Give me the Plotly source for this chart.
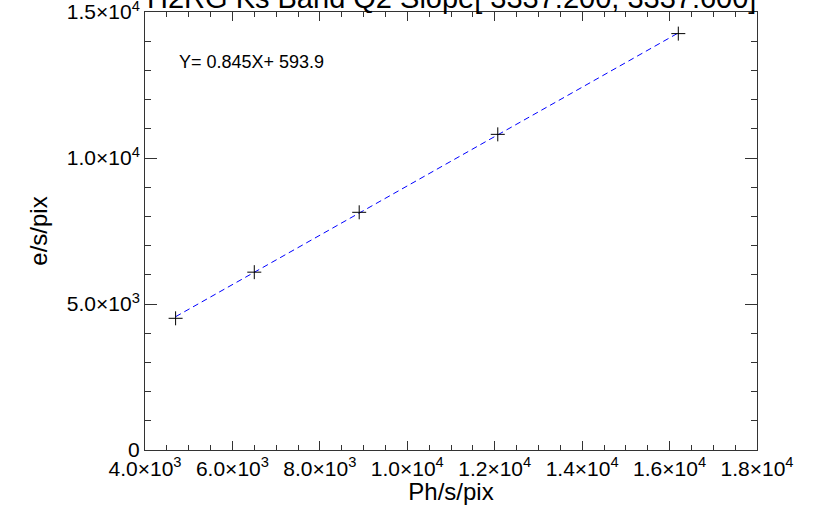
import plotly.graph_objects as go

# data
ph_flux = [4700, 6500, 8900, 12070, 16200]
e_flux = [4510, 6090, 8140, 10810, 14260]
slope = 0.845
intercept = 593.9
x_ticks = [4000, 6000, 8000, 10000, 12000, 14000, 16000, 18000]
x_labels = ["4.0×10<sup>3</sup>", "6.0×10<sup>3</sup>", "8.0×10<sup>3</sup>", "1.0×10<sup>4</sup>",
            "1.2×10<sup>4</sup>", "1.4×10<sup>4</sup>", "1.6×10<sup>4</sup>", "1.8×10<sup>4</sup>"]
y_ticks = [0, 5000, 10000, 15000]
y_labels = ["0", "5.0×10<sup>3</sup>", "1.0×10<sup>4</sup>", "1.5×10<sup>4</sup>"]
title_text = "H2RG Ks Band Q2 Slope[ 3337:200, 3337:600]"
fit_label = "Y= 0.845X+ 593.9"

fit_x = [min(ph_flux), max(ph_flux)]
fit_y = [slope * v + intercept for v in fit_x]

FONT = "Liberation Sans"
fig = go.Figure()
fig.add_trace(go.Scatter(x=fit_x, y=fit_y, mode="lines",
                         line=dict(color="#0000ff", width=1, dash="6px,4px"),
                         showlegend=False, hoverinfo="skip"))
fig.add_trace(go.Scatter(x=ph_flux, y=e_flux, mode="markers",
                         marker=dict(symbol="cross-thin", size=10, color="black",
                                     line=dict(color="black", width=1)),
                         showlegend=False))

axis_common = dict(showgrid=False, zeroline=False, showline=True, linecolor="#333333",
                   linewidth=1, mirror="allticks", ticks="inside", tickcolor="#333333",
                   ticklabeloverflow="allow", automargin=False,
                   tickfont=dict(family=FONT, size=21, color="black"))
fig.update_xaxes(range=[4000, 18000], tickvals=x_ticks, ticktext=x_labels, ticklen=9,
                 minor=dict(dtick=500, tick0=4000, ticklen=5, ticks="inside", tickcolor="#333333"),
                 title=dict(text="Ph/s/pix", font=dict(family=FONT, size=24, color="black"), standoff=0),
                 **axis_common)
fig.update_yaxes(range=[0, 15000], tickvals=y_ticks, ticktext=y_labels, ticklen=12,
                 minor=dict(dtick=1000, tick0=0, ticklen=6, ticks="inside", tickcolor="#333333"),
                 title=dict(text="e/s/pix", font=dict(family=FONT, size=24, color="black"), standoff=12),
                 **axis_common)

fig.add_annotation(text=fit_label, xref="paper", yref="paper", x=0.052, y=0.885,
                   xanchor="left", yanchor="middle", showarrow=False,
                   font=dict(family=FONT, size=18, color="black"))
fig.add_annotation(text=title_text, xref="paper", yref="paper", x=0.5, y=1,
                   xanchor="center", yanchor="bottom", yshift=-4, showarrow=False,
                   font=dict(family=FONT, size=29, color="black"))

fig.update_layout(width=820, height=505, paper_bgcolor="white", plot_bgcolor="white",
                  margin=dict(l=145, r=63, t=12, b=55, autoexpand=False))
fig.write_html("out.html")
